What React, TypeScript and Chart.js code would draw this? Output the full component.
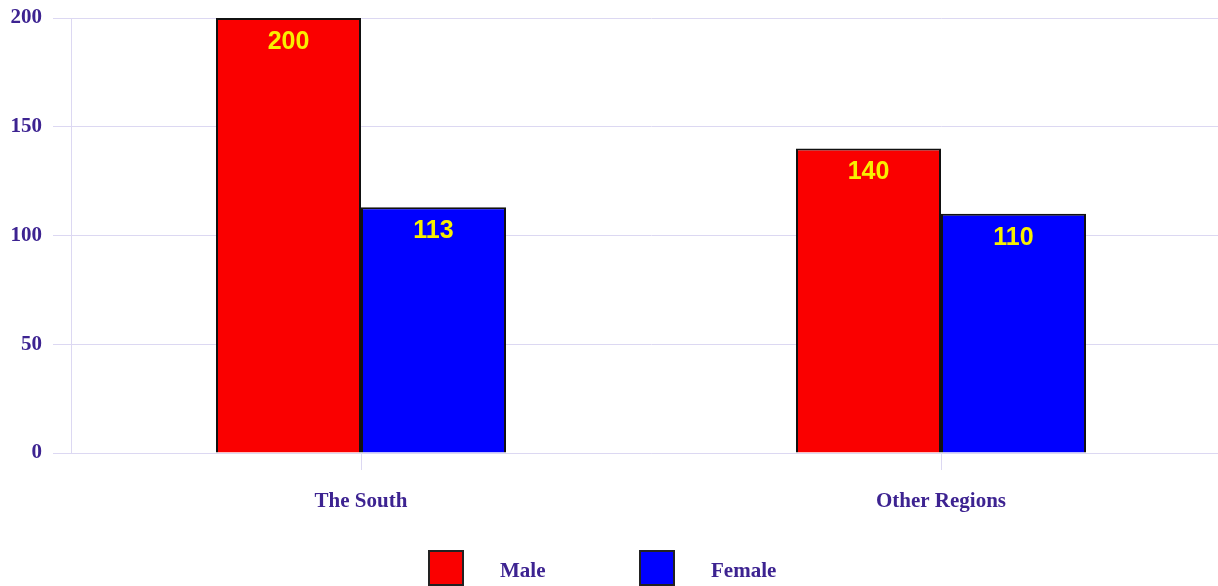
import React, { useEffect, useRef } from "react";
import { Chart, registerables } from "chart.js";

Chart.register(...registerables);

const categories = ["The South", "Other Regions"];
const maleValues = [200, 140];
const femaleValues = [113, 110];
const seriesNames = ["Male", "Female"];
const yTicks = [0, 50, 100, 150, 200];

const TEXT = "#3d2391";
const GRID = "#dcd8f2";
const SERIF = "'Liberation Serif', 'Times New Roman', serif";
const SANS = "'Liberation Sans', Arial, sans-serif";

const valueLabels = {
  id: "valueLabels",
  afterDatasetsDraw(chart: any) {
    const ctx = chart.ctx;
    ctx.save();
    ctx.font = `bold 25px ${SANS}`;
    ctx.fillStyle = "#f8f000";
    ctx.textAlign = "center";
    ctx.textBaseline = "middle";
    chart.data.datasets.forEach((ds: any, i: number) => {
      const meta = chart.getDatasetMeta(i);
      meta.data.forEach((el: any, j: number) => {
        ctx.fillText(String(ds.data[j]), el.x, el.y + 24);
      });
    });
    ctx.restore();
  },
};

const customLegend = {
  id: "customLegend",
  afterDraw(chart: any, _args: any, opts: any) {
    const ctx = chart.ctx;
    ctx.save();
    chart.data.datasets.forEach((ds: any, i: number) => {
      const x = opts.startX + i * opts.itemGap;
      const y = opts.top;
      ctx.fillStyle = ds.backgroundColor;
      ctx.fillRect(x, y, opts.box, opts.box);
      ctx.strokeStyle = "#222";
      ctx.lineWidth = 2;
      ctx.strokeRect(x, y, opts.box, opts.box);
      ctx.fillStyle = TEXT;
      ctx.font = `bold 21px ${SERIF}`;
      ctx.textAlign = "left";
      ctx.textBaseline = "middle";
      ctx.fillText(ds.label, x + opts.box + opts.textGap, y + 21);
    });
    ctx.restore();
  },
};

export default function App() {
  const ref = useRef<HTMLCanvasElement | null>(null);

  useEffect(() => {
    if (!ref.current) return;
    const chart = new Chart(ref.current, {
      type: "bar",
      data: {
        labels: categories,
        datasets: [
          {
            label: seriesNames[0],
            data: maleValues,
            backgroundColor: "#fa0000",
            borderColor: "#111",
            borderWidth: 2,
            barPercentage: 1,
            categoryPercentage: 0.5,
          },
          {
            label: seriesNames[1],
            data: femaleValues,
            backgroundColor: "#0000ff",
            borderColor: "#111",
            borderWidth: 2,
            barPercentage: 1,
            categoryPercentage: 0.5,
          },
        ],
      },
      options: {
        responsive: false,
        animation: false,
        devicePixelRatio: 1,
        layout: { padding: { top: 18, right: 9, bottom: 0, left: 0 } },
        plugins: {
          legend: { display: false },
          tooltip: { enabled: false },
          customLegend: { startX: 429, itemGap: 211, top: 551, box: 34, textGap: 37 },
        } as any,
        scales: {
          x: {
            grid: {
              display: true,
              offset: false,
              drawOnChartArea: false,
              drawTicks: true,
              tickLength: 17,
              color: GRID,
            },
            border: { display: true, color: GRID },
            ticks: {
              color: TEXT,
              font: { family: SERIF, size: 21, weight: "bold" },
              padding: 19,
            },
            afterFit: (s: any) => {
              s.height = 147;
              s.paddingLeft = 0;
              s.paddingRight = 0;
            },
          },
          y: {
            min: 0,
            max: 200,
            afterBuildTicks: (s: any) => {
              s.ticks = yTicks.map((v) => ({ value: v }));
            },
            grid: { color: GRID, tickLength: 18, drawTicks: true },
            border: { display: true, color: GRID },
            ticks: {
              color: TEXT,
              font: { family: SERIF, size: 21, weight: "bold" },
              padding: 11,
            },
            afterFit: (s: any) => {
              s.width = 71;
              s.paddingTop = 0;
              s.paddingBottom = 0;
            },
          },
        },
      },
      plugins: [valueLabels, customLegend],
    });
    return () => chart.destroy();
  }, []);

  return (
    <div
      style={{
        position: "absolute",
        left: 0,
        top: 0,
        width: 1218,
        height: 586,
        overflow: "hidden",
        background: "#fff",
      }}
    >
      <canvas ref={ref} width={1240} height={600} style={{ display: "block" }} />
    </div>
  );
}
